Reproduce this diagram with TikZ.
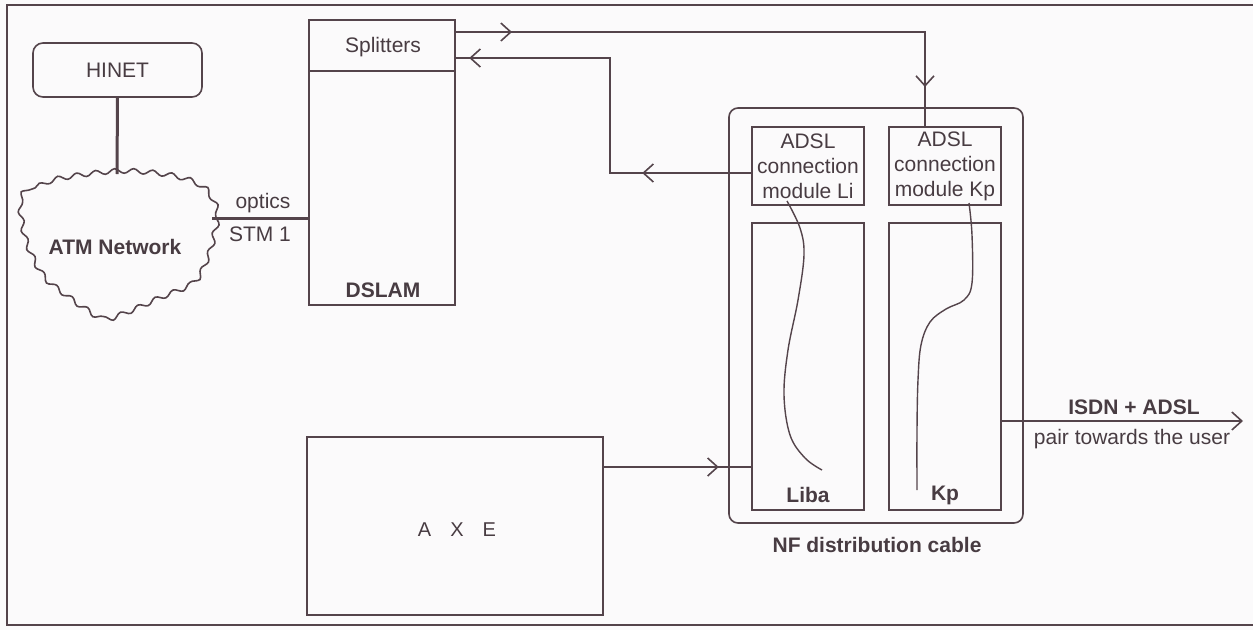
\documentclass[tikz,border=0pt]{standalone}
\usepackage{fontspec}
\setmainfont{Liberation Sans}
\usetikzlibrary{arrows.meta,decorations.markings,decorations.pathmorphing,calc}
\definecolor{ink}{RGB}{84,68,75}
\definecolor{txt}{RGB}{72,60,66}
\definecolor{paper}{RGB}{251,250,251}
\begin{document}
\begin{tikzpicture}[x=1pt,y=-1pt,
  font=\fontsize{21}{25}\selectfont,
  every node/.style={text=txt},
  box/.style={draw=ink, line width=1.6pt, rectangle, inner sep=0pt},
  lbl/.style={inner sep=0pt},
  conn/.style={draw=ink, line width=1.6pt},
  heavy/.style={draw=ink, line width=3pt},
  midtip/.style={postaction={decorate},decoration={markings,
      mark=at position #1 with {\arrow[ink]{Straight Barb[length=10pt,width=18pt,line width=1.6pt]}}}},
  pairline/.style={draw=ink, line width=1.4pt}]
\fill[paper] (0,0) rectangle (1253,630);
\useasboundingbox (0,0) rectangle (1253,630);
% frame
\draw[ink, line width=1.4pt] (1253,5) -- (7,5) -- (7,625) -- (1253,625);

% nodes
\node[box, rounded corners=10pt, minimum width=169pt, minimum height=54pt] (hinet) at (117.5,70) {HINET};
\node[box, minimum width=146pt, minimum height=285pt] (dslam) at (382,162.5) {};
\draw[ink, line width=1.6pt] ([yshift=-52pt]dslam.north west) -- ([yshift=-52pt]dslam.north east);
\node[lbl] (split) at (383,47) {Splitters};
\node[lbl, font=\fontsize{21}{25}\selectfont\bfseries] (dslamlbl) at (383,290) {DSLAM};
\node[box, minimum width=296pt, minimum height=178pt] (axe) at (455,526) {};
\node[lbl, font=\fontsize{20}{24}\selectfont] (axelbl) at (457,530) {A\hspace{19pt}X\hspace{19pt}E};

\node[box, rounded corners=9pt, minimum width=294pt, minimum height=415pt] (nf) at (876,315.5) {};
\node[box, minimum width=112pt, minimum height=78pt, align=center] (li) at (808,166) {ADSL\\connection\\module Li};
\node[box, minimum width=112pt, minimum height=78pt, align=center] (kpt) at (945,166) {ADSL\\connection\\module Kp};
\node[box, minimum width=112pt, minimum height=287pt] (liba) at (808,366.5) {};
\node[box, minimum width=112pt, minimum height=287pt] (kpb) at (945,366.5) {};
\node[lbl, font=\fontsize{21}{25}\selectfont\bfseries] (libalbl) at (808,495) {Liba};
\node[lbl, font=\fontsize{21}{25}\selectfont\bfseries] (kplbl) at (945,495) {Kp};
\node[lbl, font=\fontsize{21}{25}\selectfont\bfseries] (nflbl) at (877,545) {NF distribution cable};

% cloud
\draw[ink, line width=1.6pt, decorate, decoration={snake, segment length=19pt, amplitude=2.4pt}]
  plot[smooth cycle, tension=0.55] coordinates {(17,200) (35,188) (58,180) (117,173) (170,178) (200,190) (213,213) (210,236) (204,258) (190,284) (155,300) (121,315) (100,321) (80,310) (62,297) (43,282) (30,262) (20,235)};
\node[lbl, font=\fontsize{21}{25}\selectfont\bfseries] (atm) at (115,247) {ATM Network};
\coordinate (cloudtop) at (117,174);
\coordinate (cloudright) at (212,218);

% HINET - cloud, cloud - DSLAM
\draw[heavy] (hinet.south) -- (cloudtop);
\draw[heavy] (cloudright) -- (dslam.west |- cloudright);
\node[lbl] (optics) at (263,203) {optics};
\node[lbl] (stm) at (260,234) {STM 1};

% DSLAM splitters -> Kp module
\coordinate (s1) at (455,32);
\coordinate (b1) at (925,32);
\draw[conn, midtip=57pt] (s1) -- (b1) -- (b1 |- kpt.north);
\path[midtip=525pt] (s1) -- (b1) -- (b1 |- kpt.north);

% Li module -> DSLAM
\coordinate (b2) at (610,173);
\coordinate (b3) at (610,58);
\draw[conn, midtip=109pt] (li.west |- b2) -- (b2) -- (b3) -- (dslam.east |- b3);
\path[midtip=397pt] (li.west |- b2) -- (b2) -- (b3) -- (dslam.east |- b3);

% AXE -> Liba
\coordinate (b4) at (603,467);
\draw[conn, midtip=115pt] (axe.east |- b4) -- (liba.west |- b4);

% towards user
\coordinate (user) at (1243,421);
\draw[conn, -{Straight Barb[length=10pt,width=18pt,line width=1.6pt]}] (kpb.east |- user) -- (user);
\node[lbl, font=\fontsize{21}{25}\selectfont\bfseries] (isdn) at (1134,407) {ISDN + ADSL};
\node[lbl] (pairlbl) at (1132,439) {pair towards the user};

% pair lines
\draw[pairline] plot[smooth, tension=0.6] coordinates {(787,201) (800,228) (804,255) (798,300) (788,350) (784,395) (790,435) (805,458) (822,470)};
\draw[pairline] plot[smooth, tension=0.6] coordinates {(969,203) (972,235) (972,283) (964,300) (946,309) (930,322) (921,345) (918,380) (917,430) (917,490)};
\end{tikzpicture}
\end{document}
